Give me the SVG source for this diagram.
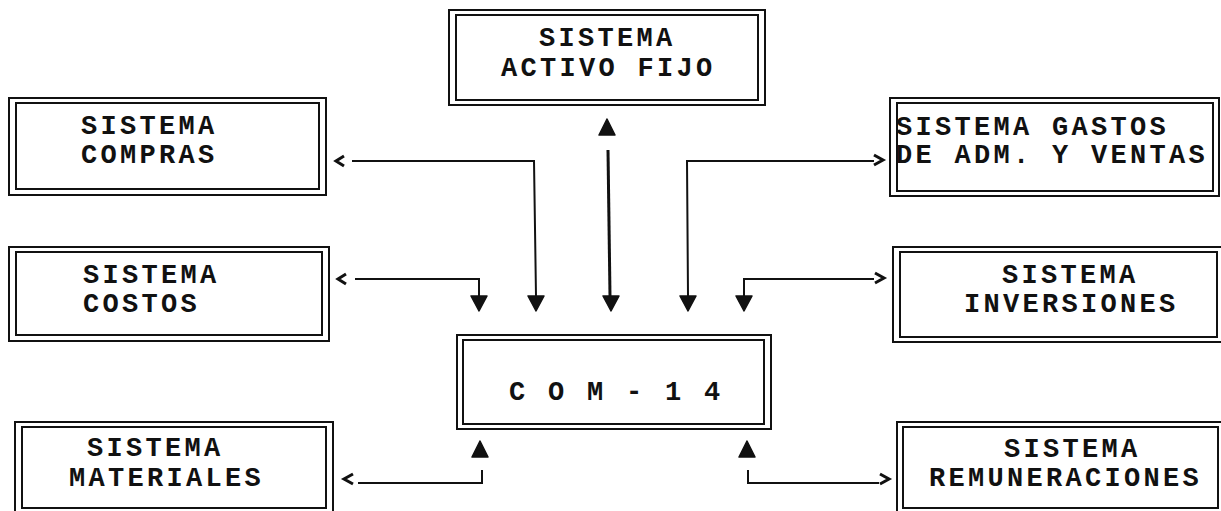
<svg xmlns="http://www.w3.org/2000/svg" width="1221" height="511" viewBox="0 0 1221 511">
  <style>
    .frame { fill: none; stroke: #111; stroke-width: 2; }
    .lbl { font-family: "Liberation Mono", "DejaVu Sans Mono", monospace; font-size: 27px; font-weight: bold; letter-spacing: 3.3px; fill: #111; }
    .wire { fill: none; stroke: #111; stroke-width: 2; }
    .wire.thick { stroke-width: 3; }
    .chev { fill: none; stroke: #111; stroke-width: 3; stroke-linejoin: miter; }
    .head { fill: #111; stroke: #111; stroke-width: 1.5; stroke-linejoin: round; }
  </style>
  <defs>
    <!-- filled arrowheads, tip at origin -->
    <path id="down" d="M-8,-15 L8,-15 L0,0 Z"/>
    <path id="up" d="M-8,16 L8,16 L0,0 Z"/>
  </defs>
  <rect width="1221" height="511" fill="#fff"/>

  <g id="activo-fijo">
    <rect class="frame" x="449" y="10" width="316" height="95"/>
    <rect class="frame" x="456" y="15" width="302" height="85"/>
    <text class="lbl" x="539" y="46">SISTEMA</text>
    <text class="lbl" x="501" y="76">ACTIVO FIJO</text>
  </g>

  <g id="compras">
    <rect class="frame" x="9" y="98" width="317" height="97"/>
    <rect class="frame" x="16" y="103" width="303" height="86"/>
    <text class="lbl" x="81" y="134">SISTEMA</text>
    <text class="lbl" x="81" y="163">COMPRAS</text>
  </g>

  <g id="costos">
    <rect class="frame" x="9" y="247" width="320" height="94"/>
    <rect class="frame" x="16" y="252" width="306" height="83"/>
    <text class="lbl" x="83" y="283">SISTEMA</text>
    <text class="lbl" x="83" y="312">COSTOS</text>
  </g>

  <g id="materiales">
    <rect class="frame" x="15" y="422" width="318" height="92"/>
    <rect class="frame" x="22" y="427" width="304" height="81"/>
    <text class="lbl" x="87" y="456">SISTEMA</text>
    <text class="lbl" x="69" y="486">MATERIALES</text>
  </g>

  <g id="gastos">
    <rect class="frame" x="890" y="98" width="329" height="98"/>
    <rect class="frame" x="897" y="103" width="316" height="88"/>
    <text class="lbl" x="896" y="135">SISTEMA GASTOS</text>
    <text class="lbl" x="896" y="163">DE ADM. Y VENTAS</text>
  </g>

  <g id="inversiones">
    <rect class="frame" x="893" y="247" width="330" height="95"/>
    <rect class="frame" x="900" y="252" width="317" height="85"/>
    <text class="lbl" x="1002" y="283">SISTEMA</text>
    <text class="lbl" x="964" y="312">INVERSIONES</text>
  </g>

  <g id="remuneraciones">
    <rect class="frame" x="897" y="422" width="326" height="92"/>
    <rect class="frame" x="903" y="427" width="315" height="81"/>
    <text class="lbl" x="1004" y="457">SISTEMA</text>
    <text class="lbl" x="929" y="486">REMUNERACIONES</text>
  </g>

  <g id="com-14">
    <rect class="frame" x="457" y="335" width="314" height="94"/>
    <rect class="frame" x="463" y="340" width="301" height="84"/>
    <text class="lbl" x="509" y="400">C O M - 1 4</text>
  </g>

  <g id="connectors">
    <!-- COMPRAS -->
    <polyline class="wire" points="352,161 534,161 536,296"/>
    <polyline class="chev" points="344,156 336,161 344,166"/>
    <use href="#down" x="536" y="311" class="head"/>
    <!-- COSTOS -->
    <polyline class="wire" points="355,279 479,279 479,296"/>
    <polyline class="chev" points="346,274 338,279 346,284"/>
    <use href="#down" x="479" y="311" class="head"/>
    <!-- ACTIVO FIJO -->
    <line class="wire thick" x1="608" y1="150" x2="610" y2="296"/>
    <use href="#down" x="611" y="311" class="head"/>
    <use href="#up" x="607" y="119" class="head"/>
    <!-- GASTOS -->
    <polyline class="wire" points="874,161 687,161 688,296"/>
    <polyline class="chev" points="874,155 883,160 874,165"/>
    <use href="#down" x="688" y="311" class="head"/>
    <!-- INVERSIONES -->
    <polyline class="wire" points="874,279 744,279 744,296"/>
    <polyline class="chev" points="875,273 884,278 875,283"/>
    <use href="#down" x="744" y="311" class="head"/>
    <!-- MATERIALES -->
    <polyline class="wire" points="358,483 482,483 482,470"/>
    <polyline class="chev" points="353,474 344,479 353,484"/>
    <use href="#up" x="480" y="441" class="head"/>
    <!-- REMUNERACIONES -->
    <polyline class="wire" points="748,470 748,483 879,483"/>
    <polyline class="chev" points="880,474 889,479 880,484"/>
    <use href="#up" x="747" y="441" class="head"/>
  </g>
</svg>
